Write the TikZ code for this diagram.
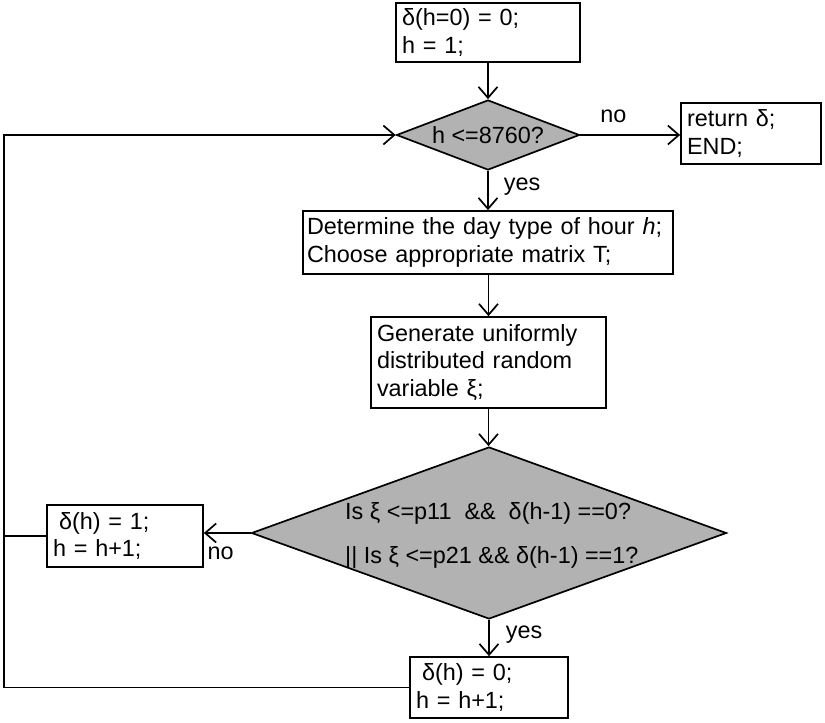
\documentclass[tikz,border=0pt]{standalone}
\usepackage{fontspec}
\setmainfont{Liberation Sans}
\usetikzlibrary{shapes.geometric,arrows.meta}
\tikzset{
  base/.style={font=\fontsize{23.4}{27.8}\selectfont},
  procbox/.style={base, draw, line width=1.7pt, align=left, inner xsep=6pt, inner ysep=2pt, fill=white},
  decision/.style={base, draw, line width=1.7pt, diamond, fill=black!30, inner sep=0pt},
  arr/.style={line width=1.7pt, -{Straight Barb[length=11pt,width=19pt,line width=1.7pt]}},
  conn/.style={line width=1.7pt},
  lbl/.style={base, inner sep=2pt}
}
\begin{document}
\begin{tikzpicture}[x=1pt,y=-1pt]
\useasboundingbox (0,0) rectangle (825,723);
\node[procbox, text width=172pt, minimum height=59pt] (start) at (488,32.5) {δ(h=0) = 0;\\h = 1;};
\node[decision, shape aspect=2.6, minimum width=183pt, minimum height=70pt] (d1) at (488,135) {h <=8760?\hspace{16pt}};
\node[procbox, text width=128pt, minimum height=61pt] (ret) at (751,133.5) {return δ;\\END;};
\node[procbox, inner xsep=4pt, text width=362pt, minimum height=63pt] (day) at (488,242.5) {Determine the day type of hour \textit{h};\\Choose appropriate matrix T;};
\node[procbox, text width=223pt, minimum height=91pt] (gen) at (488.5,362.5) {Generate uniformly\\distributed random\\variable ξ;};
\node[decision, minimum width=475pt, minimum height=172pt] (d2) at (489,533) {};
\node[base, anchor=base west, align=left, inner sep=0pt] (d2text) at (345,563) {Is ξ <=p11\ \ \&\&\ \ δ(h-1) ==0?\\[16.2pt]|| Is ξ <=p21 \&\& δ(h-1) ==1?};
\node[procbox, text width=144pt, minimum height=62pt] (one) at (125,536) {\hspace{6pt}δ(h) = 1;\\h = h+1;};
\node[procbox, text width=146pt, minimum height=61pt] (zero) at (489,687.5) {\hspace{6pt}δ(h) = 0;\\h = h+1;};
\coordinate (lx) at (4,0);

\draw[arr] (start.south -| d1.north) -- (d1.north);
\draw[arr] (d1.east) -- node[lbl, anchor=south, pos=0.33, yshift=9pt] {no} (ret.west |- d1.east);
\draw[arr] (d1.south) -- node[lbl, anchor=west, pos=0.4, xshift=13pt] {yes} (day.north -| d1.south);
\draw[arr] (day.south -| gen.north) -- (gen.north);
\draw[arr] (gen.south) -- (d2.north -| gen.south);
\draw[arr] (d2.west) -- node[lbl, anchor=north, pos=0.64, yshift=-11pt] {no} (one.east |- d2.west);
\draw[arr] (d2.south) -- node[lbl, anchor=west, pos=0.4, xshift=14pt] {yes} (zero.north -| d2.south);
\draw[conn] (one.west) -- (one.west -| lx);
\draw[arr] (zero.west) -- (zero.west -| lx) |- (d1.west);
\end{tikzpicture}
\end{document}
